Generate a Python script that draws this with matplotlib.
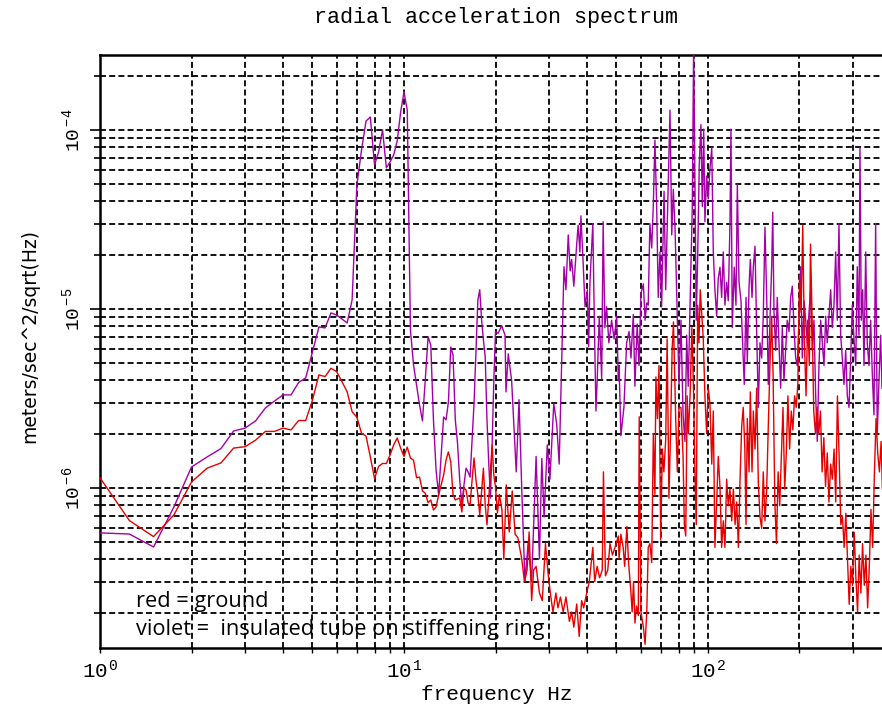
import matplotlib
matplotlib.use("Agg")
import matplotlib.pyplot as plt
import numpy as np

# ---------------- data (amplitudes in units of 1e-6 m/s^2/sqrt(Hz)) ----------------
red_freq = [
    1.00, 1.25, 1.50, 1.75, 2.00, 2.25, 2.50, 2.75, 3.00, 3.25, 3.50, 3.75, 4.00, 4.25, 4.50, 4.75,
    5.00, 5.25, 5.50, 5.75, 6.00, 6.25, 6.50, 6.75, 7.00, 7.25, 7.50, 7.75, 8.00, 8.25, 8.50, 8.75,
    9.00, 9.25, 9.50, 9.75, 10.00, 10.25, 10.50, 10.75, 11.00, 11.25, 11.50, 11.75, 12.00, 12.25,
    12.50, 12.75, 13.00, 13.25, 13.50, 13.75, 14.00, 14.25, 14.50, 14.75, 15.00, 15.25, 15.50, 15.75,
    16.00, 16.25, 16.50, 16.75, 17.00, 17.25, 17.50, 17.75, 18.00, 18.25, 18.50, 18.75, 19.00, 19.25,
    19.50, 19.75, 20.00, 20.3, 20.6, 21.0, 21.3, 21.7, 22.2, 22.7, 23.2, 23.7, 24.4, 24.9, 25.4, 25.8,
    26.3, 26.7, 27.2, 27.9, 28.5, 29.2, 29.8, 30.3, 30.9, 31.6, 32.1, 32.7, 33.4, 34.1, 35.0, 35.6,
    36.2, 37.0, 37.7, 38.4, 39.0, 39.9, 40.7, 41.8, 42.4, 43.2, 44.0, 44.9, 45.3, 46.0, 46.8, 47.6,
    48.5, 49.9, 50.7, 51.0, 51.7, 52.6, 53.2, 54.1, 54.8, 55.8, 56.3, 56.9, 57.5, 58.2, 59.0, 59.4,
    60.2, 61.3, 62.1, 62.9, 63.6, 64.4, 65.3, 66.1, 66.9, 67.4, 68.2, 69.0, 69.9, 70.8, 71.6, 72.6,
    73.4, 74.4, 75.3, 76.2, 77.0, 78.3, 79.3, 80.3, 81.5, 82.8, 83.6, 84.5, 85.4, 86.2, 87.4, 88.5,
    89.6, 90.6, 91.5, 92.5, 93.4, 94.3, 95.3, 96.5, 97.7, 99.0, 100.2, 101.5, 102.9, 104.1, 105.4,
    106.8, 108.1, 109.5, 110.9, 112.3, 113.7, 115.2, 116.6, 118.1, 119.7, 121.2, 122.8, 124.3, 125.9,
    127.5, 129.1, 130.6, 132.2, 133.4, 134.7, 136.5, 137.8, 139.6, 141.0, 142.8, 144.6, 146.4, 148.3,
    150.2, 152.0, 154.0, 156.0, 157.9, 159.9, 162.0, 163.8, 165.9, 168.0, 170.1, 172.2, 174.3, 176.5,
    178.8, 181.0, 183.2, 185.6, 187.9, 190.2, 192.7, 195.1, 197.5, 200.0, 202.5, 205.0, 207.6, 210.2,
    212.8, 215.5, 217.4, 220.1, 222.8, 225.7, 228.5, 231.4, 234.4, 237.4, 240.5, 243.6, 246.8, 250.0,
    253.3, 256.5, 259.9, 263.2, 266.6, 270.0, 273.5, 277.0, 280.5, 284.1, 287.7, 291.4, 295.1, 298.9,
    302.7, 306.6, 310.5, 314.4, 318.5, 322.5, 326.7, 330.8, 335.1, 339.4, 343.7, 348.1, 352.6, 357.2,
    361.7, 366.4, 371.1, 374.7]
red_amp = [
    1.14, 0.657, 0.535, 0.707, 1.08, 1.29, 1.38, 1.67, 1.70, 1.85, 2.07, 2.07, 2.16, 2.11, 2.38, 2.38,
    3.10, 4.28, 4.19, 4.66, 4.47, 3.93, 3.45, 2.67, 2.48, 2.02, 1.95, 1.49, 1.13, 1.32, 1.37, 1.37,
    1.53, 1.74, 1.90, 1.67, 1.50, 1.69, 1.47, 1.43, 1.14, 1.15, 0.962, 0.934, 0.828, 0.857,
    0.754, 0.783, 0.914, 1.04, 1.18, 1.43, 1.59, 1.40, 0.914, 0.857, 0.868, 0.879, 0.734, 1.00,
    0.975, 0.824, 0.804, 1.11, 1.47, 1.11, 0.914, 0.707, 0.95, 1.29, 0.804, 0.622, 0.857, 1.26,
    1.74, 1.18, 1.01, 0.725, 0.92, 0.754, 0.401, 1.04, 0.568, 0.962, 0.553, 0.526, 0.401, 0.300, 0.348, 0.568,
    0.235, 0.348, 0.365, 0.259, 0.235, 0.489, 0.331, 0.259, 0.203, 0.259, 0.214, 0.246, 0.203, 0.246, 0.180, 0.203,
    0.167, 0.225, 0.148, 0.235, 0.214, 0.259, 0.300, 0.466, 0.300, 0.365, 0.315, 0.348, 1.23, 0.323, 0.348, 0.489,
    0.422, 0.489, 0.539, 0.402, 0.552, 0.466, 0.365, 0.608, 0.383, 0.259, 0.203, 0.300, 0.176, 0.219, 0.194, 2.50,
    0.203, 0.167, 0.134, 0.203, 0.466, 0.489, 0.383, 2.01, 0.921, 4.17, 2.44, 4.83, 0.514, 1.65, 1.23, 1.87,
    6.80, 0.877, 2.01, 5.86, 8.46, 2.44, 1.23, 2.82, 2.82, 1.50, 0.624, 0.539, 3.27, 2.01, 3.44, 7.86,
    3.61, 1.23, 0.624, 10.5, 6.47, 12.8, 9.55, 6.80, 3.27, 2.01, 3.61, 2.96, 1.36, 2.69, 0.466,
    0.835, 1.50, 1.02, 0.466, 0.655, 0.466, 1.12, 0.796, 0.986, 0.655, 0.986, 0.624, 0.835, 0.466,
    1.12, 2.21, 2.82, 1.65, 0.624, 2.44, 1.23, 3.44, 1.23, 2.69, 1.65, 3.61, 1.07, 0.688,
    0.594, 1.23, 0.655, 0.986, 2.21, 4.83, 9.10, 4.17, 0.835, 0.489, 1.23, 0.796, 1.50, 2.82,
    0.986, 1.57, 3.27, 1.65, 2.69, 2.11, 3.27, 2.82, 3.79, 15.5, 9.55, 29.3, 6.47, 3.27,
    8.65, 4.83, 23.0, 8.65, 2.69, 2.01, 2.82, 2.01, 2.69, 1.23, 1.91, 1.02, 1.57, 0.835,
    1.36, 1.12, 1.65, 0.835, 3.27, 1.50, 0.624, 0.688, 0.466, 0.722, 0.402, 0.224, 0.365, 0.286,
    0.566, 0.315, 0.203, 0.422, 0.259, 0.489, 0.286, 0.422, 0.214, 0.365, 0.759, 0.466, 1.18, 2.44,
    1.57, 1.23, 1.82, 0.986]

violet_freq = [
    1.00, 1.25, 1.50, 1.75, 2.00, 2.25, 2.50, 2.75, 3.00, 3.25, 3.50, 3.75, 4.00, 4.25, 4.50, 4.75,
    5.00, 5.25, 5.50, 5.75, 6.00, 6.25, 6.50, 6.75, 7.00, 7.25, 7.50, 7.75, 8.00, 8.25, 8.50, 8.75,
    9.00, 9.25, 9.50, 9.75, 10.00, 10.25, 10.50, 10.75, 11.00, 11.25, 11.50, 11.75, 12.00, 12.25,
    12.50, 12.75, 13.00, 13.25, 13.50, 13.75, 14.00, 14.25, 14.50, 14.75, 15.00, 15.25, 15.50, 15.75,
    16.00, 16.25, 16.50, 16.75, 17.00, 17.25, 17.50, 17.75, 18.00, 18.25, 18.50, 18.75, 19.00, 19.25,
    19.50, 19.75, 20.00, 20.4, 20.96, 21.5, 21.65, 22.03, 22.6, 23.4, 23.9, 24.4, 25.0, 25.6, 26.3,
    27.2, 27.9, 28.4, 28.9, 29.6, 30.2, 31.1, 31.8, 32.4, 33.0, 33.6, 34.1, 34.7, 35.2, 35.6, 36.2,
    37.0, 37.4, 37.9, 38.2, 38.9, 39.4, 40.1, 40.5, 40.9, 41.8, 42.2, 42.8, 43.2, 43.9, 44.7, 45.2,
    45.8, 46.4, 47.2, 48.2, 49.1, 50.1, 50.7, 51.0, 51.7, 52.9, 54.0, 55.0, 55.8, 56.8, 57.5, 58.5,
    59.3, 60.2, 61.3, 62.1, 62.9, 63.6, 64.4, 65.3, 66.1, 66.9, 67.8, 68.6, 69.5, 70.4, 71.7, 72.6,
    73.5, 75.0, 76.0, 76.9, 77.9, 79.3, 80.3, 81.5, 82.8, 84.0, 85.1, 86.1, 87.5, 88.8, 89.7, 90.6,
    91.5, 92.5, 93.6, 94.8, 95.8, 96.8, 97.7, 99.0, 100.2, 101.5, 102.9, 104.1, 105.4, 106.8, 108.1,
    109.5, 110.9, 112.3, 113.7, 115.2, 116.6, 118.1, 119.0, 120.2, 122.0, 123.6, 124.9, 126.5, 128.4,
    130.0, 131.6, 133.4, 134.7, 136.5, 137.8, 139.6, 141.0, 142.8, 144.6, 146.4, 148.3, 150.2, 152.0,
    154.0, 156.0, 157.9, 159.9, 162.0, 163.3, 164.9, 167.0, 169.0, 171.2, 173.4, 175.6, 177.8, 180.1,
    182.3, 184.7, 187.1, 189.4, 191.8, 194.3, 196.7, 199.3, 201.8, 204.3, 207.0, 209.6, 212.2, 214.9,
    217.7, 220.3, 223.2, 226.1, 228.8, 231.8, 234.8, 237.7, 240.8, 243.9, 246.8, 250.0, 253.3, 256.4,
    259.7, 263.1, 266.3, 269.7, 273.2, 276.6, 280.2, 283.8, 287.3, 291.0, 294.8, 298.4, 302.2, 306.2,
    309.8, 313.8, 316.2, 319.4, 322.8, 326.0, 330.2, 334.2, 338.5, 342.9, 347.1, 351.6, 356.1, 360.5,
    365.2, 369.9, 373.6]
violet_amp = [
    0.561, 0.553, 0.468, 0.783, 1.31, 1.49, 1.66, 2.08, 2.16, 2.37, 2.80, 3.06, 3.31, 3.31, 3.88, 4.12,
    5.75, 7.93, 7.83, 9.50, 9.25, 8.79, 8.35, 11.2, 49.3, 77.3, 112, 118, 63.7, 75.3, 100, 61.4,
    66.3, 72.5, 86.8, 126, 163, 129, 7.63, 4.86, 3.76, 2.91, 2.37, 4.01, 6.98, 6.29,
    2.40, 1.26, 0.914, 1.53, 2.49, 2.40, 3.02, 6.13, 5.53, 2.40, 1.78, 1.11, 0.804, 1.04,
    1.29, 1.23, 1.15, 1.85, 2.98, 5.90, 11.2, 12.8, 8.68, 6.71, 5.40, 2.40, 1.38, 0.879,
    1.78, 4.01, 7.44, 7.31, 8.06, 7.13, 3.44, 5.61, 3.97, 1.23, 3.11, 0.986, 0.300, 0.489, 0.300,
    1.50, 0.402, 1.46, 0.689, 1.74, 1.12, 2.96, 2.27, 1.36, 4.83, 17.2, 12.8, 25.9, 16.3, 18.9, 13.4,
    23.0, 29.3, 20.8, 33.1, 17.2, 10.3, 12.8, 6.15, 14.1, 30.0, 10.5, 2.69, 3.97, 9.10, 4.07, 30.7,
    7.86, 10.3, 6.47, 8.65, 6.80, 9.10, 3.97, 4.83, 1.96, 2.82, 6.47, 7.48, 5.32, 9.31, 3.70, 8.24,
    4.83, 12.2, 13.8, 8.65, 10.8, 10.5, 30.0, 21.9, 38.3, 87.7, 37.4, 11.6, 20.8, 10.3, 45.4, 12.8,
    30.7, 129, 25.9, 46.5, 28.6, 8.65, 3.79, 8.65, 2.56, 1.82, 7.13, 3.70, 12.5, 37.4, 300, 47.7,
    8.65, 19.8, 63.9, 107, 37.4, 101, 30.7, 55.2, 41.2, 60.8, 79.4, 20.8, 12.8, 9.10, 14.8,
    17.1, 11.6, 20.8, 10.5, 14.1, 11.1, 29.3, 101, 7.86, 17.1, 10.5, 49.9, 14.1, 11.1,
    6.47, 3.79, 11.6, 5.07, 13.4, 18.9, 11.6, 17.2, 22.4, 7.48, 2.82, 6.47, 5.32, 9.10,
    28.6, 11.6, 3.79, 8.65, 17.2, 34.7, 9.55, 5.86, 11.6, 6.47, 3.61, 7.86, 3.97, 5.86,
    8.65, 7.48, 11.6, 13.4, 7.86, 5.32, 4.83, 8.65, 17.2, 5.32, 11.1, 8.65, 6.47, 9.55,
    12.8, 5.86, 8.65, 3.27, 1.82, 4.83, 8.65, 6.47, 4.83, 9.10, 6.47, 9.10, 12.8, 7.86,
    10.5, 20.8, 8.65, 30.0, 7.13, 5.32, 3.79, 5.86, 3.27, 2.82, 5.32, 10.5, 6.80, 4.83,
    17.2, 7.13, 79.4, 8.65, 12.8, 4.83, 20.8, 6.47, 4.83, 8.65, 4.38, 2.56, 30.0, 2.01,
    3.97, 7.13, 3.61]
amp_unit = 1e-6

xtick_vals = [1, 10, 100]
xtick_labels = [r'$\mathrm{10}^{\,\mathrm{0}}$', r'$\mathrm{10}^{\,\mathrm{1}}$', r'$\mathrm{10}^{\,\mathrm{2}}$']
ytick_vals = [1e-6, 1e-5, 1e-4]
ytick_labels = [r'$\mathrm{10}^{\;\mathrm{-6}}$', r'$\mathrm{10}^{\;\mathrm{-5}}$', r'$\mathrm{10}^{\;\mathrm{-4}}$']

title_text = 'radial acceleration spectrum'
xlabel_text = 'frequency Hz'
ylabel_text = 'meters/sec^2/sqrt(Hz)'
note_red = 'red = ground'
note_violet = 'violet =  insulated tube on stiffening ring'

# ---------------- styling ----------------
plt.rcParams['mathtext.fontset'] = 'custom'
plt.rcParams['mathtext.rm'] = 'Liberation Mono'
plt.rcParams['mathtext.it'] = 'Liberation Mono'
plt.rcParams['mathtext.bf'] = 'Liberation Mono'
plt.rcParams['font.family'] = ['Liberation Mono', 'DejaVu Sans']

W, H = 882, 715
fig = plt.figure(figsize=(W / 100, H / 100), dpi=100)
fig.patch.set_facecolor('white')
ax = fig.add_axes([100 / W, (H - 648) / H, 791 / W, 593 / H])
ax.set_xscale('log')
ax.set_yscale('log')
ax.set_xlim(1, 400)
ax.set_ylim(1.277e-7, 2.62e-4)

ax.grid(True, which='both', color='black', linestyle=(0, (3.3, 1.8)), linewidth=1.3, zorder=1)
ax.set_axisbelow(True)

rf = np.array(red_freq)
ra = np.array(red_amp) * amp_unit
vf = np.array(violet_freq)
va = np.array(violet_amp) * amp_unit
ax.plot(vf, va, color='#a400a8', linewidth=1.0, zorder=3)
ax.plot(rf, ra, color='#e60000', linewidth=1.0, zorder=4)

ax.set_xticks(xtick_vals)
ax.set_xticklabels(xtick_labels, fontsize=15)
ax.set_yticks(ytick_vals)
ax.set_yticklabels(ytick_labels, fontsize=14, rotation=90, va='center')

ax.tick_params(axis='y', which='major', length=7.2, width=1.2, direction='out', pad=5)
ax.tick_params(axis='y', which='minor', length=4.3, width=1.2, direction='out')
ax.tick_params(axis='x', which='both', length=3.6, width=1.0, direction='out', pad=5)

for s in ax.spines.values():
    s.set_linewidth(1.8)

fig.text(496.5 / W, (H - 18) / H, title_text, ha='center', va='center',
         fontsize=15.7, family='Liberation Mono')
fig.text(496.5 / W, (H - 695) / H, xlabel_text, ha='center', va='center',
         fontsize=15.2, family='Liberation Mono')
fig.text(30 / W, (H - 336) / H, ylabel_text, ha='center', va='center', rotation=90,
         fontsize=13.5, family=['Liberation Sans Narrow', 'DejaVu Sans'])

ax.text(36 / 791, (648 - 607) / 593, note_red, transform=ax.transAxes, ha='left',
        va='baseline', fontsize=15.7, family=['Open Sans', 'DejaVu Sans'], zorder=5)
ax.text(36 / 791, (648 - 635) / 593, note_violet, transform=ax.transAxes, ha='left',
        va='baseline', fontsize=15.7, family=['Open Sans', 'DejaVu Sans'], zorder=5)

fig.savefig('out.png', dpi=100)
